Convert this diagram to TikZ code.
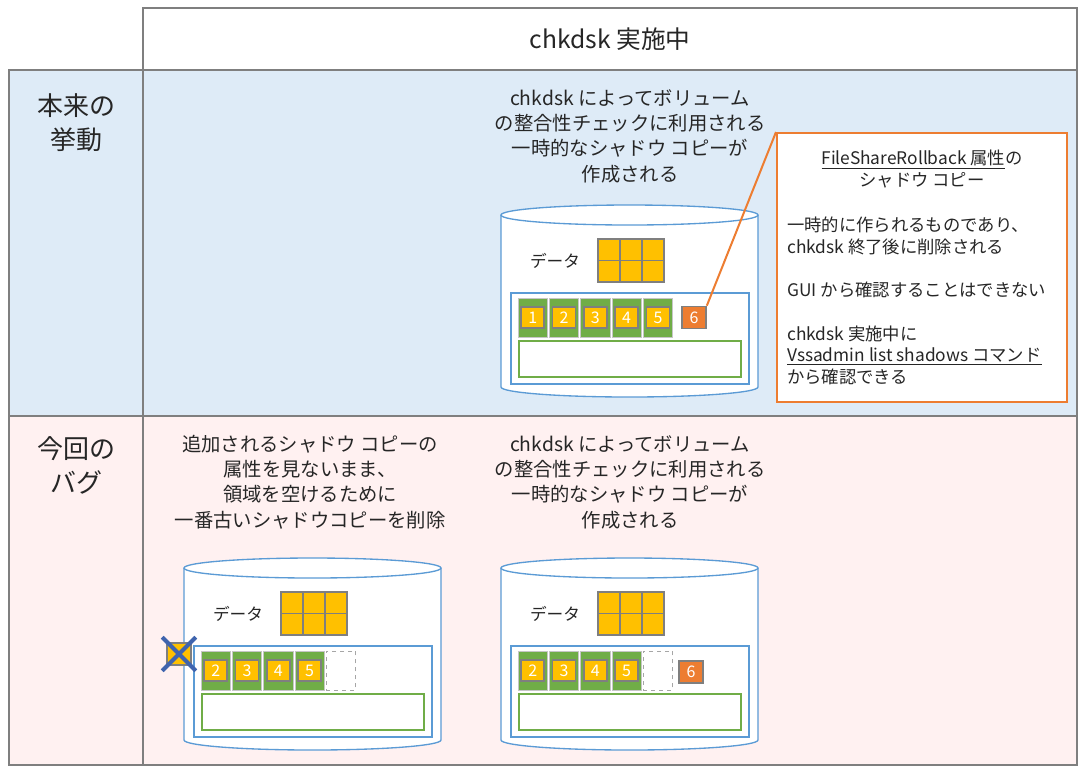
\documentclass[tikz,border=0pt]{standalone}
\usepackage{fontspec}
\setmainfont{Noto Sans CJK JP}
\usepackage{xcolor}
\usepackage{tikz}
\usetikzlibrary{calc}

\definecolor{rowblue}{HTML}{DEEBF7}
\definecolor{rowpink}{HTML}{FFF1F1}
\definecolor{rule}{HTML}{7F7F7F}
\definecolor{drumblue}{HTML}{5B9BD5}
\definecolor{okgreen}{HTML}{70AD47}
\definecolor{chunkyellow}{HTML}{FFC000}
\definecolor{tmporange}{HTML}{ED7D31}
\definecolor{crossblue}{HTML}{3F64AE}

\begin{document}
\begin{tikzpicture}[x=0.75pt, y=-0.75pt,
    cell/.style={draw=rule, line width=1.3pt},
    drum/.style={draw=drumblue, line width=1pt, fill=white},
    volume/.style={draw=drumblue, line width=2pt, fill=white, minimum width=178.5pt, minimum height=68.25pt, inner sep=0pt},
    freearea/.style={draw=okgreen, line width=2pt, fill=white, minimum width=166.5pt, minimum height=27pt, inner sep=0pt},
    datacell/.style={draw=rule, line width=1.2pt, fill=chunkyellow, minimum width=16.5pt, minimum height=16.1pt, inner sep=0pt},
    slot/.style={draw=gray!45, line width=0.6pt, fill=okgreen, minimum width=22.1pt, minimum height=29.25pt, inner sep=0pt},
    emptyslot/.style={slot, draw=gray!70, dashed, fill=white},
    chunk/.style={draw=rule, line width=1.2pt, fill=chunkyellow, text=white, font=\fontsize{12}{12}\selectfont, minimum width=17.25pt, minimum height=15.75pt, inner sep=0pt},
    shadow/.style={chunk, fill=tmporange, minimum width=18pt, minimum height=16.5pt},
    leader/.style={draw=tmporange, line width=1.5pt},
    cross/.style={draw=crossblue, line width=3pt},
    note/.style={align=center, text=black!85, font=\fontsize{14.5}{19}\selectfont},
    rowname/.style={align=center, text=black!85, font=\fontsize{19.5}{25.5}\selectfont},
    memotext/.style={text=black!85, font=\fontsize{13}{16.3}\selectfont}]
    \useasboundingbox (0,0) rectangle (1080,769);

    % table
    \draw[cell, fill=white] (143,8) rectangle (1077,70);
    \draw[cell, fill=rowblue] (9,70) rectangle (143,416);
    \draw[cell, fill=rowblue] (143,70) rectangle (1077,416);
    \draw[cell, fill=rowpink] (9,416) rectangle (143,765);
    \draw[cell, fill=rowpink] (143,416) rectangle (1077,765);

    % headings
    \node[note, font=\fontsize{18.5}{22}\selectfont] (head) at (610,39) {chkdsk 実施中};
    \node[rowname] (usual) at (76,123) {本来の\\挙動};
    \node[rowname] (bug) at (76,465) {今回の\\バグ};

    % volumes
    \foreach \cx/\cy/\nm in {501/215/now, 184/568/old, 501/568/new} {
        \draw[drum] (\cx,\cy) -- (\cx,\cy+172) arc[start angle=180, end angle=0, x radius=128.5, y radius=10] -- (\cx+257,\cy);
        \draw[drum] (\cx+128.5,\cy) ellipse [x radius=128.5, y radius=10];
        \node[text=black!85, font=\fontsize{12.5}{14}\selectfont] (\nm-lab) at (\cx+54,\cy+46) {データ};
        \foreach \i in {0,1,2}
            \foreach \j in {0,1}
                \node[datacell] (\nm-d\i\j) at (\cx+108+\i*22,\cy+34.75+\j*21.5) {};
        \node[volume] (\nm-vol) at (\cx+129,\cy+123.5) {};
        \node[freearea] (\nm-free) at (\cx+129,\cy+144) {};
    }

    % copies on the first volume
    \foreach \k/\n in {0/1, 1/2, 2/3, 3/4, 4/5} {
        \node[slot] (now-s\n) at (501+31.75+\k*31.3,317.5) {};
        \node[chunk] (now-c\n) at (now-s\n) {\n};
    }
    \node[shadow] (now-6) at (694,317.5) {6};

    % copies after the bug
    \foreach \k/\n in {0/2, 1/3, 2/4, 3/5} {
        \node[slot] (old-s\n) at (184+31.75+\k*31.3,670.5) {};
        \node[chunk] (old-c\n) at (old-s\n) {\n};
        \node[slot] (new-s\n) at (501+31.75+\k*31.3,670.5) {};
        \node[chunk] (new-c\n) at (new-s\n) {\n};
    }
    \node[emptyslot] (old-gap) at (184+31.75+4*31.3,670.5) {};
    \node[emptyslot] (new-gap) at (501+31.75+4*31.3,670.5) {};
    \node[shadow] (new-6) at (691,672) {6};

    % deleted copy
    \node[chunk, minimum width=18pt, minimum height=16.5pt] (gone) at (179,654) {};
    \draw[cross] ($(gone.north west)+(-4,-5)$) -- ($(gone.south east)+(4,5)$);
    \draw[cross] ($(gone.south west)+(-4,5)$) -- ($(gone.north east)+(4,-5)$);

    % explanations
    \node[note] (now-note) at (630,136) {chkdsk によってボリューム\\の整合性チェックに利用される\\一時的なシャドウ コピーが\\作成される};
    \node[note] (old-note) at (310,482) {追加されるシャドウ コピーの\\属性を見ないまま、\\領域を空けるために\\一番古いシャドウコピーを削除};
    \node[note] (new-note) at (630,482) {chkdsk によってボリューム\\の整合性チェックに利用される\\一時的なシャドウ コピーが\\作成される};

    % callout
    \node[draw=tmporange, line width=1.5pt, fill=white, minimum width=217.5pt, minimum height=201.75pt] (memo) at (922,267.5) {};
    \node[memotext, align=center] (memo-title) at (922,169) {\underline{FileShareRollback 属性}の\\シャドウ コピー};
    \node[memotext, align=left, anchor=west, inner sep=0pt] (memo-body) at (787,301) {一時的に作られるものであり、\\chkdsk 終了後に削除される\\[16.3pt]GUI から確認することはできない\\[16.3pt]chkdsk 実施中に\\\underline{Vssadmin list shadows コマンド}\\から確認できる};
    \draw[leader] (now-6.north east) -- (memo.north west);
\end{tikzpicture}
\end{document}
